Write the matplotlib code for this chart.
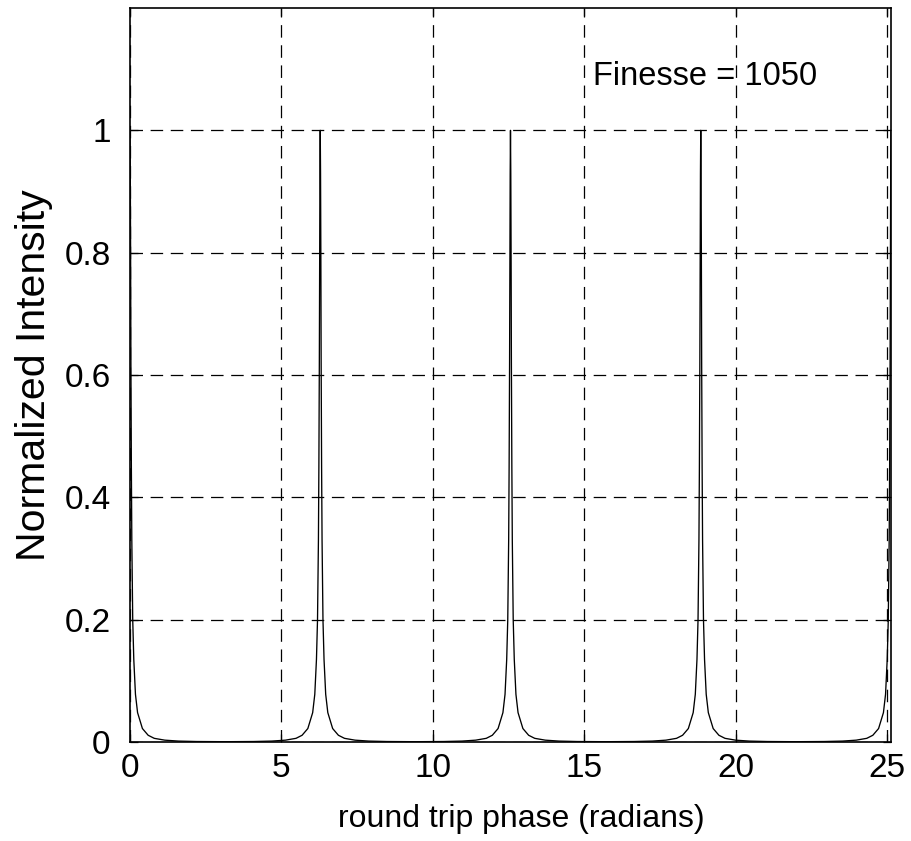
import numpy as np
import matplotlib
matplotlib.use('Agg')
import matplotlib.pyplot as plt
from matplotlib.ticker import FuncFormatter

plt.rcParams['font.family'] = ['Liberation Sans', 'DejaVu Sans']
plt.rcParams['lines.scale_dashes'] = False

# transmission peaks (round trip phase, radians)
peak_centres = [0.0, 6.283, 12.566, 18.850, 25.133]

# one side of a peak: offset from centre vs intensity
profile_offset = [0.0, 0.01, 0.02, 0.03, 0.045, 0.06, 0.09, 0.125, 0.18, 0.25,
                  0.41, 0.6, 0.8, 1.15, 1.6, 2.2, 3.14]
profile_value = [1.0, 0.93, 0.8, 0.62, 0.45, 0.33, 0.2, 0.135, 0.078, 0.048,
                 0.022, 0.011, 0.006, 0.003, 0.0015, 0.0008, 0.0005]

x_ticks = [0, 5, 10, 15, 20, 25]
y_ticks = [0, 0.2, 0.4, 0.6, 0.8, 1.0]
x_max = 25.133
y_max = 1.2

# build the curve from the read profile placed at each peak
off = np.array(profile_offset)
val = np.array(profile_value)
full_off = np.concatenate([-off[::-1], off[1:]])
full_val = np.concatenate([val[::-1], val[1:]])
xs, ys = [], []
for c in peak_centres:
    keep = (c + full_off >= 0) & (c + full_off <= x_max)
    xs.append(c + full_off[keep])
    ys.append(full_val[keep])
phase = np.concatenate(xs)
intensity = np.concatenate(ys)
order = np.argsort(phase)
phase, intensity = phase[order], intensity[order]

fig = plt.figure(figsize=(9.11, 8.41), dpi=100)
ax = fig.add_axes([130 / 911, 99 / 841, 761 / 911, 734 / 841])

ax.plot(phase, intensity, color='black', lw=0.95)

ax.set_xlim(0, x_max)
ax.set_ylim(0, y_max)
ax.set_xticks(x_ticks)
ax.set_yticks(y_ticks)
ax.yaxis.set_major_formatter(FuncFormatter(lambda v, p: '%g' % v))

ax.grid(True, color='black', lw=0.9, dashes=(9, 5.5))
ax.tick_params(direction='in', length=6, width=0.9, top=True, right=True,
               labelsize=24)
ax.tick_params(axis='x', pad=8)
ax.tick_params(axis='y', pad=14)
for s in ax.spines.values():
    s.set_linewidth(1.2)

ax.set_xlabel('round trip phase (radians)', fontsize=23, labelpad=14)
ax.xaxis.label.set_x(0.514)
ax.set_ylabel('Normalized Intensity', fontsize=29.5, labelpad=8)

ax.text(15.3, 1.088, 'Finesse = 1050', fontsize=23.5, va='center', ha='left')

fig.savefig('out.png', dpi=100)
